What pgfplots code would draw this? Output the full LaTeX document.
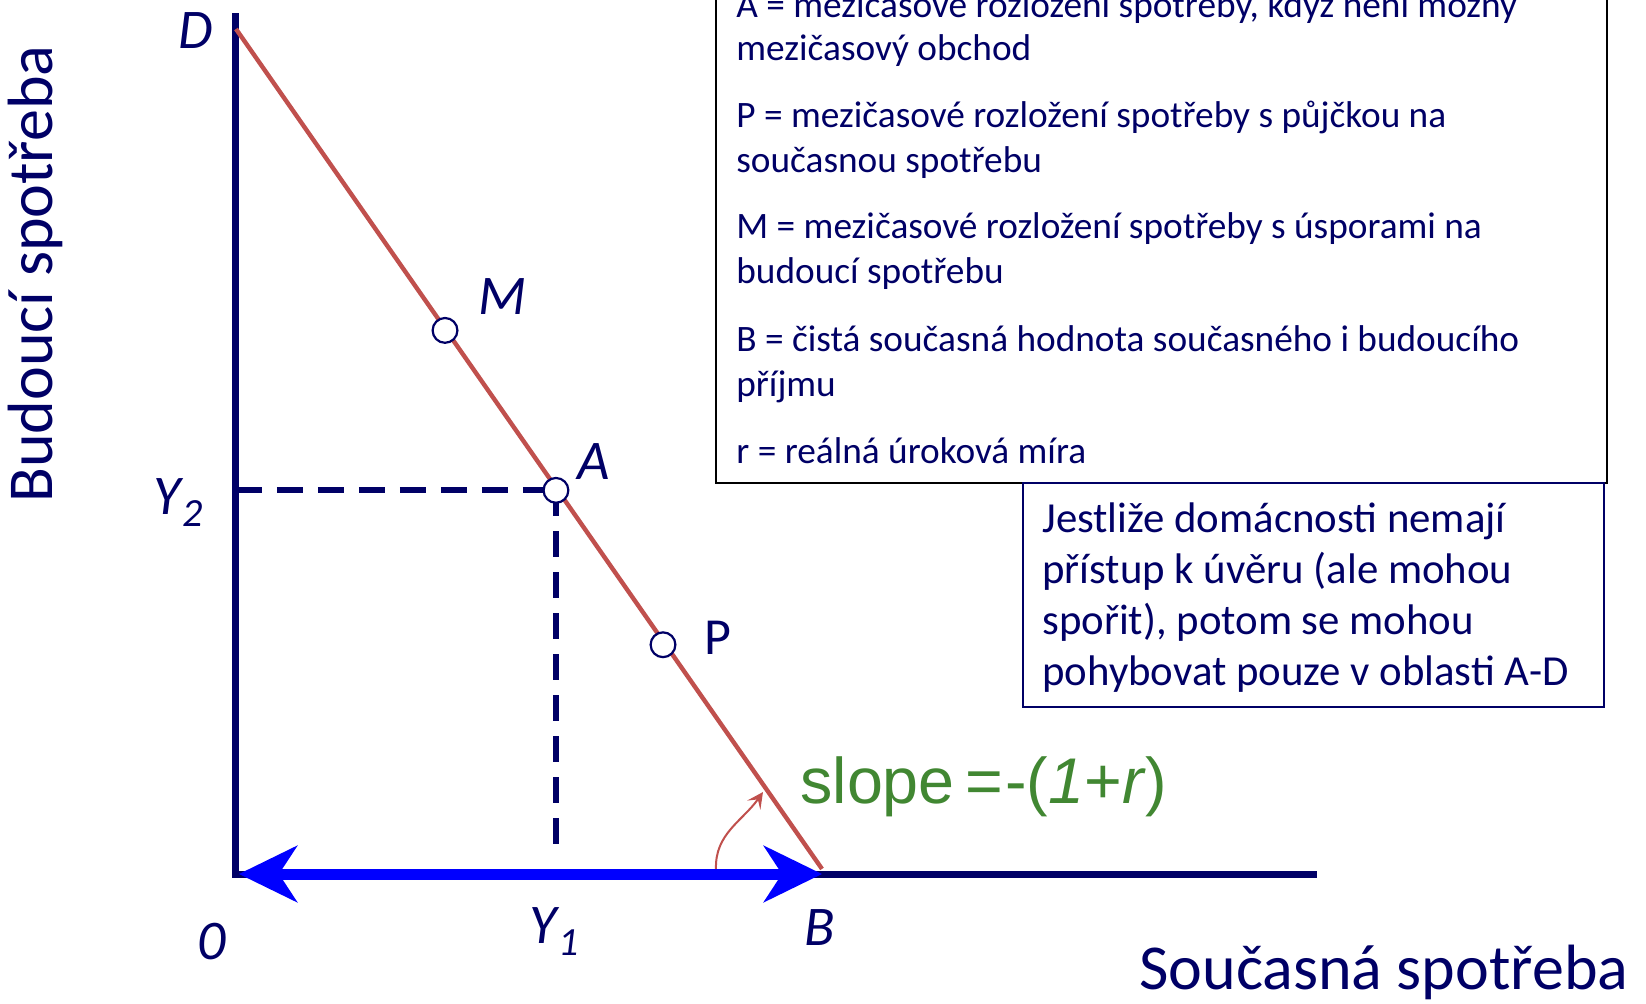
\documentclass[border=0pt]{standalone}
\usepackage{fontspec}
\setmainfont{Carlito}
\newfontfamily\arialf{Liberation Sans}
\usepackage{pgfplots}
\pgfplotsset{compat=1.18}
\usetikzlibrary{arrows.meta}
\definecolor{navy}{RGB}{0,0,102}
\definecolor{redl}{RGB}{192,80,77}
\definecolor{greent}{RGB}{65,135,50}
\definecolor{bluea}{RGB}{0,0,255}
\newcommand{\sub}[1]{\raisebox{-0.45ex}{\fontsize{20}{22}\selectfont #1}}
\begin{document}
\begin{tikzpicture}
\path[use as bounding box, clip] (0,0) rectangle (823pt,501.5pt);
\begin{axis}[scale only axis, width=823pt, height=501.5pt,
  xmin=-4.027, xmax=24.061, ymin=-1.5266, ymax=10.343,
  axis lines=none, clip=false]
% axes
\addplot[navy, line width=3.5pt, line join=miter] coordinates {(0,10.189) (0,0) (18.447,0)};
% dashed guides
\addplot[navy, line width=3pt, dash pattern=on 13pt off 7.5pt] coordinates {(0,4.54) (5.46,4.54)};
\addplot[navy, line width=3pt, dash pattern=on 13pt off 7.5pt] coordinates {(5.46,4.54) (5.46,0.25)};
% budget line
\addplot[redl, line width=2.2pt] coordinates {(0,10) (10,0.06)};
% blue double arrow
\addplot[bluea, line width=5.5pt, {Stealth[length=29pt,width=28pt,inset=9pt]}-{Stealth[length=29pt,width=28pt,inset=9pt]}] coordinates {(0.05,0) (10,0)};
% points M, A, P
\addplot[only marks, mark=*, mark size=6.2pt, mark options={fill=white, draw=navy, line width=1.1pt}] coordinates {(3.567,6.433) (5.46,4.54) (7.287,2.713)};
% curved arrow
\draw[redl, line width=1pt, -{Stealth[length=8pt,width=8pt,inset=3.5pt]}] (axis cs:8.191,0.06) to[out=92, in=235] (axis cs:8.993,0.970);
% labels
\begin{scope}[every node/.style={text=navy, font=\fontsize{28}{30}\selectfont\itshape}]
\node at (axis cs:-0.683,9.976) {D};
\node at (axis cs:4.539,6.828) {M};
\node at (axis cs:6.109,4.876) {A};
\node[font=\fontsize{26}{28}\selectfont] at (axis cs:8.225,2.793) {P};
\node at (axis cs:-0.990,4.40) {Y\kern1pt\sub{2}};
\node at (axis cs:5.427,-0.68) {Y\kern1pt\sub{1}};
\node at (axis cs:-0.410,-0.805) {0};
\node at (axis cs:9.966,-0.639) {B};
\end{scope}
\node[anchor=west, text=greent, font=\arialf\fontsize{32.3}{34}\selectfont, inner sep=0pt] at (axis cs:9.625,1.03) {slope\,=\kern1pt-(\textit{1}+\textit{r})};
\node[rotate=90, text=navy, font=\fontsize{32}{34}\selectfont] at (axis cs:-3.43,7.101) {Budoucí spotřeba};
\node[anchor=east, text=navy, font=\fontsize{32}{34}\selectfont, inner sep=0pt] at (axis cs:23.77,-1.16) {Současná spotřeba};
% upper box
\draw[black, line width=1pt] (axis cs:8.191,4.627) rectangle (axis cs:23.396,10.8);
\begin{scope}[every node/.style={anchor=mid west, text=navy, font=\fontsize{18.65}{20}\selectfont, inner sep=0pt}]
\node at (axis cs:8.532,10.195) {A = mezičasové rozložení spotřeby, když není možný};
\node at (axis cs:8.532,9.685) {mezičasový obchod};
\node at (axis cs:8.532,8.889) {P = mezičasové rozložení spotřeby s půjčkou na};
\node at (axis cs:8.532,8.356) {současnou spotřebu};
\node at (axis cs:8.532,7.573) {M = mezičasové rozložení spotřeby s úsporami na};
\node at (axis cs:8.532,7.039) {budoucí spotřebu};
\node at (axis cs:8.532,6.243) {B = čistá současná hodnota současného i budoucího};
\node at (axis cs:8.532,5.709) {příjmu};
\node at (axis cs:8.532,4.914) {r = reálná úroková míra};
\end{scope}
% lower box
\draw[navy, line width=1pt] (axis cs:13.430,4.627) rectangle (axis cs:23.345,1.976);
\begin{scope}[every node/.style={anchor=mid west, text=navy, font=\fontsize{21.4}{23}\selectfont, inner sep=0pt}]
\node at (axis cs:13.754,4.101) {Jestliže domácnosti nemají};
\node at (axis cs:13.754,3.498) {přístup k úvěru (ale mohou};
\node at (axis cs:13.754,2.894) {spořit), potom se mohou};
\node at (axis cs:13.754,2.291) {pohybovat pouze v oblasti A-D};
\end{scope}
\end{axis}
\end{tikzpicture}
\end{document}
